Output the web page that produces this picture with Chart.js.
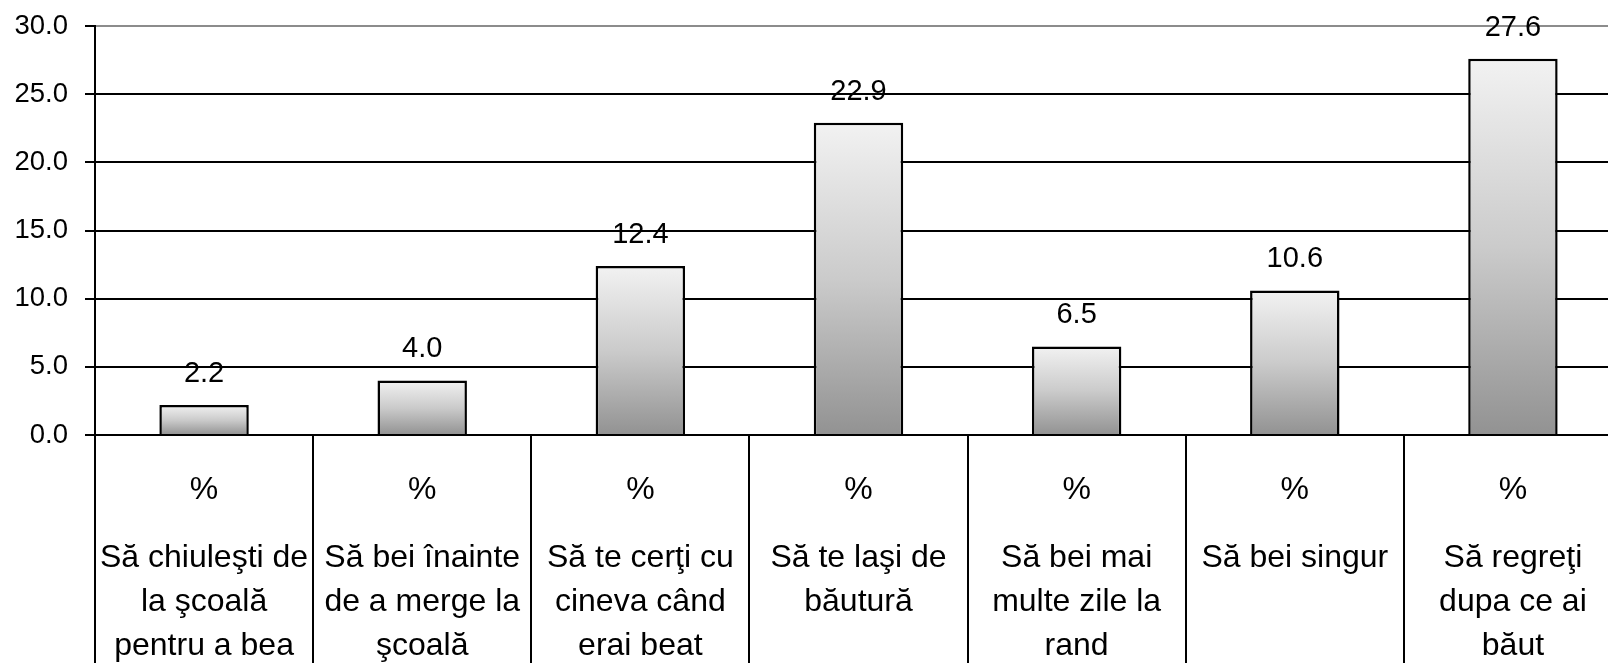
<!DOCTYPE html>
<html lang="ro">
<head>
<meta charset="utf-8">
<title>Comportamente legate de consumul de alcool (%)</title>
<script src="https://cdn.jsdelivr.net/npm/chart.js@4.4.1/dist/chart.umd.min.js"></script>
<style>
  html, body { margin: 0; padding: 0; background: #ffffff; overflow: hidden; }
  #wrap { width: 1608px; height: 663px; overflow: hidden; }
  canvas { display: block; }
</style>
</head>
<body>
<div id="wrap"><canvas id="chart" width="1622" height="663"></canvas></div>
<script>
// Category names (outer label row), one array of lines per category
const categoryLines = [
  ['Să chiuleşti de', 'la şcoală', 'pentru a bea'],
  ['Să bei înainte', 'de a merge la', 'şcoală'],
  ['Să te cerţi cu', 'cineva când', 'erai beat'],
  ['Să te laşi de', 'băutură'],
  ['Să bei mai', 'multe zile la', 'rand'],
  ['Să bei singur'],
  ['Să regreţi', 'dupa ce ai', 'băut']
];

// Unit row (inner label row)
const unitLabels = ['%', '%', '%', '%', '%', '%', '%'];

// Percentages
const percentValues = [2.2, 4.0, 12.4, 22.9, 6.5, 10.6, 27.6];

// Y axis range and step
const yMin = 0;
const yMax = 30;
const yStep = 5;

const FONT = '"Liberation Sans", Arial, Helvetica, sans-serif';

// Vertical grey gradient for each bar, from its top down to the zero line
function barFill(context) {
  const chart = context.chart;
  if (!chart.chartArea || context.type !== 'data') return '#c8c8c8';
  const yScale = chart.scales.y;
  const top = yScale.getPixelForValue(context.parsed.y);
  const bottom = yScale.getPixelForValue(0);
  const g = chart.ctx.createLinearGradient(0, top, 0, bottom);
  g.addColorStop(0, '#f2f2f2');
  g.addColorStop(0.5, '#cbcbcb');
  g.addColorStop(1, '#929292');
  return g;
}

// Value written above each bar
const valueLabels = {
  id: 'valueLabels',
  afterDatasetsDraw(chart) {
    const ctx = chart.ctx;
    const meta = chart.getDatasetMeta(0);
    const values = chart.data.datasets[0].data;
    ctx.save();
    ctx.font = '29px ' + FONT;
    ctx.fillStyle = '#000000';
    ctx.textAlign = 'center';
    ctx.textBaseline = 'alphabetic';
    meta.data.forEach((bar, i) => {
      ctx.fillText(values[i].toFixed(1), bar.x, bar.y - 23);
    });
    ctx.restore();
  }
};

new Chart(document.getElementById('chart'), {
  type: 'bar',
  data: {
    labels: categoryLines,
    datasets: [{
      data: percentValues,
      xAxisID: 'x',
      yAxisID: 'y',
      backgroundColor: barFill,
      borderColor: '#000000',
      borderWidth: 2.5,
      borderSkipped: 'start',
      categoryPercentage: 1.0,
      barPercentage: 0.41
    }]
  },
  options: {
    responsive: false,
    devicePixelRatio: 1,
    animation: false,
    events: [],
    layout: { padding: { left: 15, top: 26, right: 0, bottom: 0 } },
    plugins: {
      legend: { display: false },
      tooltip: { enabled: false },
      title: { display: false }
    },
    scales: {
      y: {
        type: 'linear',
        position: 'left',
        min: yMin,
        max: yMax,
        ticks: {
          stepSize: yStep,
          padding: 17,
          color: '#000000',
          font: { family: FONT, size: 27.5 },
          callback: (v) => Number(v).toFixed(1)
        },
        grid: {
          color: (ctx) => (ctx.tick && ctx.tick.value === yMax ? '#8c8c8c' : '#000000'),
          lineWidth: 2,
          tickLength: 10,
          tickColor: '#000000',
          tickWidth: 2
        },
        border: { display: true, color: '#000000', width: 2 },
        afterFit: (scale) => {
          scale.width = 80;
          scale.paddingTop = 0;
          scale.paddingBottom = 0;
        }
      },
      // inner label row: "%" plus the column dividers running down the table
      x2: {
        type: 'category',
        position: 'bottom',
        weight: 0,
        labels: unitLabels,
        offset: true,
        ticks: {
          color: '#000000',
          font: { family: FONT, size: 32 },
          padding: -204,
          maxRotation: 0,
          minRotation: 0,
          autoSkip: false
        },
        grid: {
          offset: true,
          drawOnChartArea: false,
          drawTicks: true,
          tickLength: 240,
          color: '#000000',
          lineWidth: 2,
          tickColor: '#000000',
          tickWidth: 2
        },
        border: { display: true, color: '#000000', width: 2 },
        afterFit: (scale) => { scale.height = 70; }
      },
      // outer label row: category names
      x: {
        type: 'category',
        position: 'bottom',
        weight: 1,
        offset: true,
        ticks: {
          color: '#000000',
          font: { family: FONT, size: 32, lineHeight: 1.375 },
          padding: 31,
          maxRotation: 0,
          minRotation: 0,
          autoSkip: false
        },
        grid: { display: false, drawTicks: false, offset: true },
        border: { display: false },
        afterFit: (scale) => { scale.height = 158; }
      }
    }
  },
  plugins: [valueLabels]
});
</script>
</body>
</html>
